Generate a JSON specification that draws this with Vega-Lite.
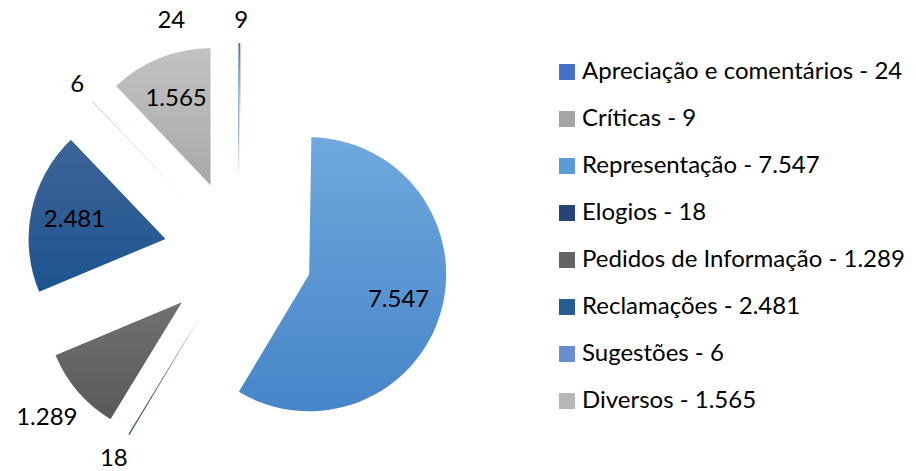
{
  "$schema": "https://vega.github.io/schema/vega-lite/v6.json",
  "width": 916,
  "height": 471,
  "padding": 0,
  "autosize": {"type": "none"},
  "config": {
    "view": {"stroke": null},
    "font": "Lato",
    "locale": {"number": {"decimal": ",", "thousands": ".", "grouping": [3], "currency": ["€", ""]}}
  },
  "data": {
    "values": [
      {"i": 1, "categoria": "Apreciação e comentários", "value": 24, "legenda": "Apreciação e comentários - 24"},
      {"i": 2, "categoria": "Críticas", "value": 9, "legenda": "Críticas - 9"},
      {"i": 3, "categoria": "Representação", "value": 7547, "legenda": "Representação - 7.547"},
      {"i": 4, "categoria": "Elogios", "value": 18, "legenda": "Elogios - 18"},
      {"i": 5, "categoria": "Pedidos de Informação", "value": 1289, "legenda": "Pedidos de Informação - 1.289"},
      {"i": 6, "categoria": "Reclamações", "value": 2481, "legenda": "Reclamações - 2.481"},
      {"i": 7, "categoria": "Sugestões", "value": 6, "legenda": "Sugestões - 6"},
      {"i": 8, "categoria": "Diversos", "value": 1565, "legenda": "Diversos - 1.565"}
    ]
  },
  "transform": [
    {"joinaggregate": [{"op": "sum", "field": "value", "as": "total"}]},
    {"window": [{"op": "sum", "field": "value", "as": "cum"}], "sort": [{"field": "i"}], "frame": [null, 0]},
    {"calculate": "(datum.cum - datum.value) / datum.total", "as": "t0"},
    {"calculate": "datum.cum / datum.total", "as": "t1"},
    {"calculate": "(datum.cum - datum.value / 2) / datum.total", "as": "tm"},
    {"calculate": "sin(2 * PI * datum.tm)", "as": "ex"},
    {"calculate": "cos(2 * PI * datum.tm)", "as": "ey"}
  ],
  "encoding": {
    "x": {"field": "ex", "type": "quantitative", "stack": null, "scale": {"domain": [-1, 1], "range": [164, 312], "nice": false, "zero": false}, "axis": null},
    "y": {"field": "ey", "type": "quantitative", "stack": null, "scale": {"domain": [-1, 1], "range": [328, 180], "nice": false, "zero": false}, "axis": null}
  },
  "layer": [
    {
      "mark": {"type": "arc", "radius": 137},
      "encoding": {
        "theta": {"field": "t0", "type": "quantitative", "stack": null, "scale": {"domain": [0, 1], "range": [0, 6.283185307179586]}},
        "theta2": {"field": "t1"},
        "color": {
          "condition": [
            {"test": "datum.categoria === 'Representação'", "value": {"gradient": "linear", "x1": 0, "y1": 0, "x2": 0, "y2": 1, "stops": [{"offset": 0, "color": "#70A8DD"}, {"offset": 1, "color": "#4785C9"}]}},
            {"test": "datum.categoria === 'Reclamações'", "value": {"gradient": "linear", "x1": 0, "y1": 0, "x2": 0, "y2": 1, "stops": [{"offset": 0, "color": "#3D6498"}, {"offset": 1, "color": "#1D548F"}]}},
            {"test": "datum.categoria === 'Diversos'", "value": {"gradient": "linear", "x1": 0, "y1": 0, "x2": 0, "y2": 1, "stops": [{"offset": 0, "color": "#C2C2C2"}, {"offset": 1, "color": "#A9A9A9"}]}},
            {"test": "datum.categoria === 'Pedidos de Informação'", "value": {"gradient": "linear", "x1": 0, "y1": 0, "x2": 0, "y2": 1, "stops": [{"offset": 0, "color": "#717171"}, {"offset": 1, "color": "#595959"}]}}
          ],
          "field": "legenda",
          "type": "nominal",
          "scale": {
            "domain": ["Apreciação e comentários - 24", "Críticas - 9", "Representação - 7.547", "Elogios - 18", "Pedidos de Informação - 1.289", "Reclamações - 2.481", "Sugestões - 6", "Diversos - 1.565"],
            "range": ["#4472C4", "#A5A5A5", "#5B9BD5", "#264478", "#636363", "#255E91", "#698ED0", "#B7B7B7"]
          },
          "legend": {
            "title": null,
            "orient": "none",
            "legendX": 555,
            "legendY": 60,
            "padding": 0,
            "symbolType": "square",
            "symbolSize": 256,
            "symbolStrokeWidth": 0,
            "labelFont": "Lato",
            "labelFontSize": 24,
            "labelColor": "#000000",
            "labelOffset": 3,
            "labelLimit": 400,
            "rowPadding": 23
          }
        }
      }
    },
    {
      "transform": [{"filter": {"field": "categoria", "oneOf": ["Representação", "Reclamações", "Diversos"]}}],
      "mark": {"type": "text", "radius": 93, "fontSize": 24, "color": "#000000", "align": "center", "baseline": "middle"},
      "encoding": {
        "theta": {"field": "tm", "type": "quantitative", "stack": null},
        "text": {"field": "value", "type": "quantitative", "format": ","}
      }
    },
    {
      "transform": [{"filter": {"field": "categoria", "oneOf": ["Críticas", "Sugestões"]}}],
      "mark": {"type": "text", "radius": 159, "fontSize": 24, "color": "#000000", "align": "center", "baseline": "middle"},
      "encoding": {
        "theta": {"field": "tm", "type": "quantitative", "stack": null},
        "text": {"field": "value", "type": "quantitative", "format": ","}
      }
    },
    {
      "transform": [{"filter": {"field": "categoria", "equal": "Elogios"}}],
      "mark": {"type": "text", "radius": 166, "fontSize": 24, "color": "#000000", "align": "center", "baseline": "middle"},
      "encoding": {
        "theta": {"field": "tm", "type": "quantitative", "stack": null},
        "text": {"field": "value", "type": "quantitative", "format": ","}
      }
    },
    {
      "transform": [{"filter": {"field": "categoria", "equal": "Pedidos de Informação"}}],
      "mark": {"type": "text", "radius": 178, "fontSize": 24, "color": "#000000", "align": "center", "baseline": "middle"},
      "encoding": {
        "theta": {"field": "tm", "type": "quantitative", "stack": null},
        "text": {"field": "value", "type": "quantitative", "format": ","}
      }
    },
    {
      "transform": [{"filter": {"field": "categoria", "equal": "Apreciação e comentários"}}],
      "mark": {"type": "text", "radius": 159, "dx": -68, "fontSize": 24, "color": "#000000", "align": "center", "baseline": "middle"},
      "encoding": {
        "theta": {"field": "tm", "type": "quantitative", "stack": null},
        "text": {"field": "value", "type": "quantitative", "format": ","}
      }
    }
  ]
}
